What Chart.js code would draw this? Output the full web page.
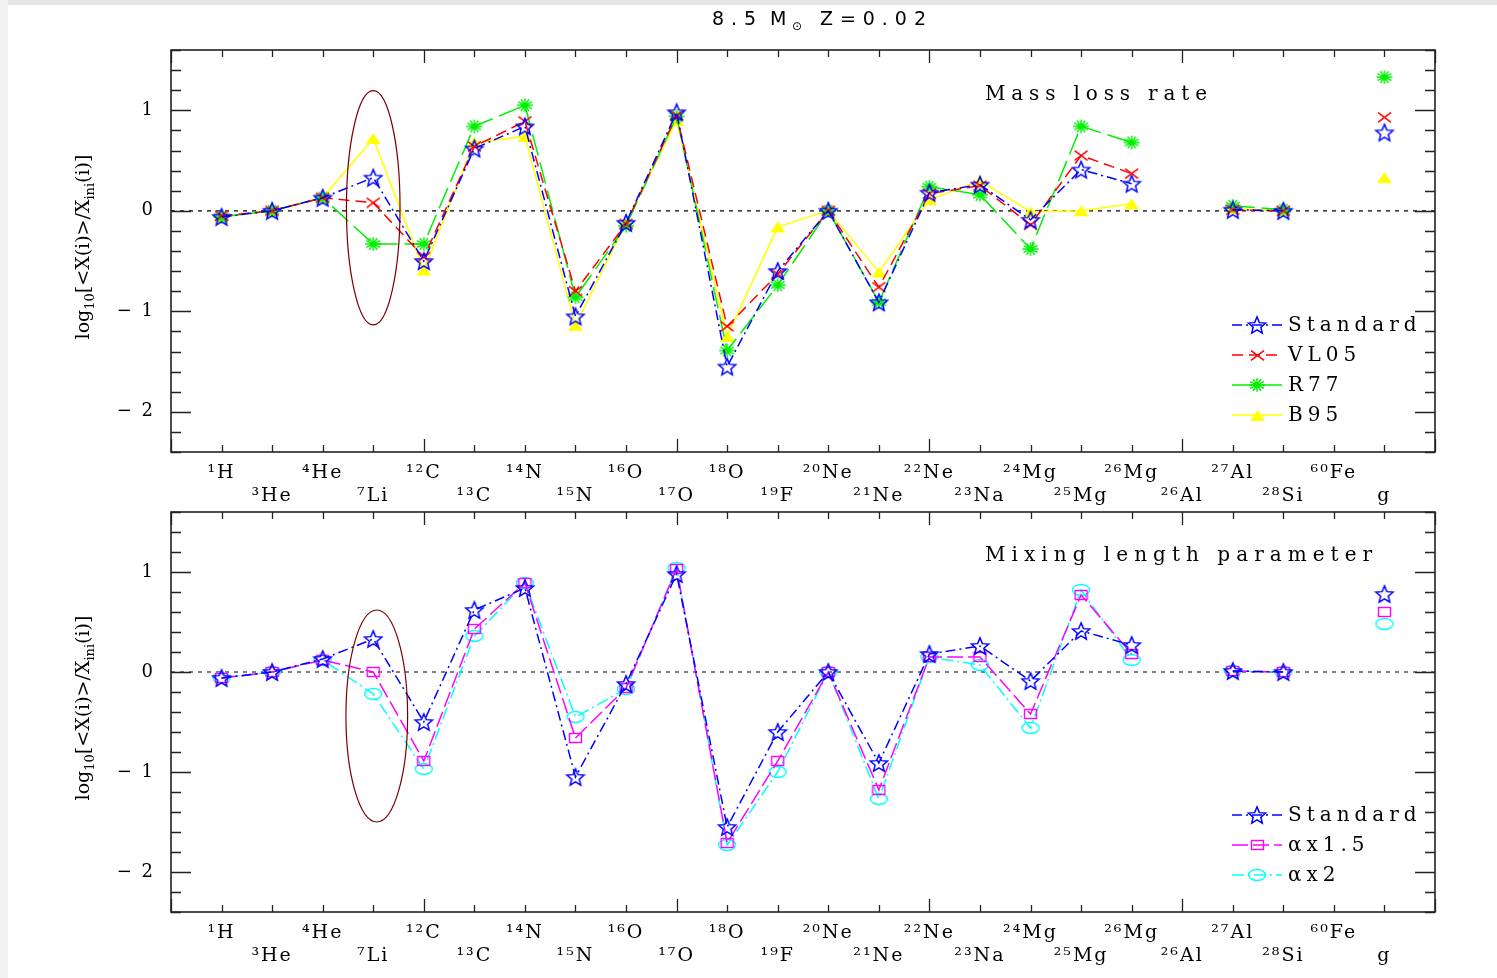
<!DOCTYPE html>
<html>
<head>
<meta charset="utf-8">
<script src="https://cdn.jsdelivr.net/npm/chart.js@4"></script>
<style>
html,body{margin:0;padding:0;background:#fff;}
#wrap{position:relative;width:1497px;height:978px;background:#fff;overflow:hidden;}
#topbar{position:absolute;left:0;top:0;width:1497px;height:5px;background:#e6e6e6;}
#leftbar{position:absolute;left:0;top:0;width:8px;height:978px;background:#f1f1f1;}
#c1{position:absolute;left:0;top:0;}
#c2{position:absolute;left:0;top:470px;}
</style>
</head>
<body>
<div id="wrap">
<div id="topbar"></div><div id="leftbar"></div>
<canvas id="c1" width="1497" height="510"></canvas>
<canvas id="c2" width="1497" height="508"></canvas>
</div>
<script>
// ---------------- data ----------------
const isotopeMass = [1,3,4,7,12,13,14,15,16,17,18,19,20,21,22,23,24,25,26,26,27,28,60,null];
const isotopeElem = ['H','He','He','Li','C','C','N','N','O','O','O','F','Ne','Ne','Ne','Na','Mg','Mg','Mg','Al','Al','Si','Fe','g'];

const yTickValues = [1, 0, -1, -2];
const yTickText   = ['1', '0', '\u2212 1', '\u2212 2'];

// Top panel: mass loss rate
const standard = [-0.06, 0.00, 0.13, 0.33, -0.50, 0.62, 0.84, -1.05, -0.12, 0.98, -1.55, -0.60, 0.00, -0.91, 0.18, 0.26, -0.09, 0.41, 0.27, null, 0.01, 0.00, null, 0.78];
const vl05     = [-0.05, 0.00, 0.13, 0.08, -0.46, 0.64, 0.89, -0.80, -0.13, 0.95, -1.15, -0.63, 0.00, -0.76, 0.17, 0.25, -0.14, 0.55, 0.37, null, 0.01, 0.00, null, 0.93];
const r77      = [-0.06, 0.00, 0.13, -0.33, -0.33, 0.84, 1.05, -0.86, -0.15, 0.94, -1.39, -0.74, 0.00, -0.91, 0.24, 0.16, -0.38, 0.84, 0.68, null, 0.05, 0.01, null, 1.33];
const b95      = [-0.06, 0.00, 0.13, 0.72, -0.59, 0.68, 0.74, -1.14, -0.12, 0.90, -1.25, -0.16, 0.00, -0.61, 0.11, 0.30, -0.01, 0.00, 0.07, null, 0.02, 0.00, null, 0.33];

// Bottom panel: mixing length parameter
const alpha15  = [-0.06, 0.00, 0.12, 0.00, -0.89, 0.43, 0.89, -0.66, -0.16, 1.03, -1.71, -0.89, 0.00, -1.18, 0.15, 0.15, -0.42, 0.77, 0.18, null, 0.01, 0.00, null, 0.60];
const alpha2   = [-0.06, 0.00, 0.12, -0.22, -0.97, 0.36, 0.89, -0.45, -0.17, 1.04, -1.73, -1.00, 0.00, -1.27, 0.15, 0.07, -0.56, 0.82, 0.12, null, 0.01, 0.00, null, 0.48];

// ---------------- helpers ----------------
const SERIF = '"DejaVu Serif", "Liberation Serif", serif';
const SUP = {'0':'\u2070','1':'\u00b9','2':'\u00b2','3':'\u00b3','4':'\u2074','5':'\u2075','6':'\u2076','7':'\u2077','8':'\u2078','9':'\u2079'};
function isoLabel(i){
  const m = isotopeMass[i];
  const pre = m == null ? '' : String(m).split('').map(c => SUP[c]).join('');
  return pre + isotopeElem[i];
}
function xLabel(v){
  const i = Math.round(v) - 1;
  if (Math.abs(v - Math.round(v)) > 1e-6 || i < 0 || i >= isotopeElem.length) return '';
  const lab = isoLabel(i);
  return i % 2 === 0 ? [lab, ''] : ['', lab];
}
function yLabel(v){
  const r = Math.round(v);
  if (Math.abs(v - r) > 1e-6) return '';
  const k = yTickValues.indexOf(r === 0 ? 0 : r);
  return k >= 0 ? yTickText[k] : '';
}

function mk(w, h){ const c = document.createElement('canvas'); c.width = w; c.height = h; return c; }
function starImg(color, R){
  const s = Math.ceil(R*2 + 4), c = mk(s, s), g = c.getContext('2d');
  g.strokeStyle = color; g.lineWidth = 1.5; g.beginPath();
  const r = R * 0.45, cy = s/2 + R*0.1;
  for (let k = 0; k < 10; k++){
    const a = -Math.PI/2 + k*Math.PI/5, rr = k % 2 === 0 ? R : r;
    const x = s/2 + rr*Math.cos(a), y = cy + rr*Math.sin(a);
    k ? g.lineTo(x, y) : g.moveTo(x, y);
  }
  g.closePath(); g.stroke(); return c;
}
function crossImg(color, a){
  const s = Math.ceil(a*2 + 4), c = mk(s, s), g = c.getContext('2d');
  g.strokeStyle = color; g.lineWidth = 1.5; g.beginPath();
  g.moveTo(s/2 - a, s/2 - a*0.75); g.lineTo(s/2 + a, s/2 + a*0.75);
  g.moveTo(s/2 - a, s/2 + a*0.75); g.lineTo(s/2 + a, s/2 - a*0.75);
  g.stroke(); return c;
}
function asteriskImg(color, R){
  const s = Math.ceil(R*2 + 4), c = mk(s, s), g = c.getContext('2d');
  g.strokeStyle = color; g.lineWidth = 1.5; g.beginPath();
  for (let k = 0; k < 6; k++){
    const a = k*Math.PI/6;
    g.moveTo(s/2 - R*Math.cos(a), s/2 - R*0.85*Math.sin(a));
    g.lineTo(s/2 + R*Math.cos(a), s/2 + R*0.85*Math.sin(a));
  }
  g.stroke(); return c;
}
function triImg(color, w, h){
  const c = mk(w + 2, h + 2), g = c.getContext('2d');
  g.fillStyle = color; g.beginPath();
  g.moveTo(1 + w/2, 1); g.lineTo(1 + w, 1 + h); g.lineTo(1, 1 + h); g.closePath(); g.fill(); return c;
}
function rectImg(color, w, h){
  const c = mk(w + 3, h + 3), g = c.getContext('2d');
  g.strokeStyle = color; g.lineWidth = 1.4; g.strokeRect(1.5, 1.5, w, h); return c;
}
function ellImg(color, w, h){
  const c = mk(w + 3, h + 3), g = c.getContext('2d');
  g.strokeStyle = color; g.lineWidth = 1.4; g.beginPath();
  g.ellipse(1.5 + w/2, 1.5 + h/2, w/2, h/2, 0, 0, Math.PI*2); g.stroke(); return c;
}

const BLUE = '#0000ff', RED = '#ff0000', GREEN = '#00f000', YELLOW = '#ffff00', MAG = '#ff00ff', CYAN = '#00ffff';

function fitDraw(ctx, text, x, y, target){
  ctx.letterSpacing = '0px';
  const w = ctx.measureText(text).width;
  const n = [...text].length;
  const ls = Math.max(0, (target - w) / (n - 1));
  ctx.letterSpacing = ls.toFixed(2) + 'px';
  ctx.fillText(text, x, y);
  ctx.letterSpacing = '0px';
}

function makeDeco(cfg){
  return {
    id: 'panelDeco',
    beforeDraw(chart){ chart.ctx.letterSpacing = '2px'; },
    beforeDatasetsDraw(chart){ chart.ctx.letterSpacing = '0px'; },
    afterDatasetsDraw(chart){
      const ctx = chart.ctx, {left, right, top, bottom} = chart.chartArea;
      const xs = chart.scales.x, ys = chart.scales.y;
      ctx.save();
      ctx.strokeStyle = '#222'; ctx.lineWidth = 1.6;
      ctx.strokeRect(left, top, right - left, bottom - top);
      ctx.lineWidth = 1.3; ctx.beginPath();
      for (let v = 0; v <= 25; v++){
        const px = Math.round(xs.getPixelForValue(v)) + 0.5, L = v % 5 === 0 ? 13 : 7;
        ctx.moveTo(px, top); ctx.lineTo(px, top + L);
        ctx.moveTo(px, bottom); ctx.lineTo(px, bottom - L);
      }
      for (let k = -12; k <= 8; k++){
        const py = Math.round(ys.getPixelForValue(k*0.2)) + 0.5, L = k % 5 === 0 ? 20 : 10;
        ctx.moveTo(left, py); ctx.lineTo(left + L, py);
        ctx.moveTo(right, py); ctx.lineTo(right - L, py);
      }
      ctx.stroke();
      // ellipse highlighting 7Li
      const e = cfg.ellipse;
      const cx = xs.getPixelForValue(e.x), cy = ys.getPixelForValue(e.y);
      const rx = xs.getPixelForValue(e.x + e.rx) - cx, ry = cy - ys.getPixelForValue(e.y + e.ry);
      ctx.strokeStyle = '#7a0000'; ctx.lineWidth = 1.2; ctx.beginPath();
      ctx.ellipse(cx, cy, rx, ry, 0, 0, Math.PI*2); ctx.stroke();
      ctx.restore();
    },
    afterDraw(chart){
      const ctx = chart.ctx, {left, right, top, bottom} = chart.chartArea;
      ctx.save();
      ctx.fillStyle = '#000';
      // annotation
      ctx.font = '20px ' + SERIF; ctx.textBaseline = 'middle'; ctx.textAlign = 'left';
      fitDraw(ctx, cfg.note.text, left + 814, top + cfg.note.dy, cfg.note.width);
      // legend
      const items = chart.data.datasets.filter(d => !d.isRef);
      const n = items.length;
      items.forEach((d, i) => {
        const y = bottom - 37 - (n - 1 - i)*30;
        ctx.save();
        ctx.strokeStyle = d.borderColor; ctx.lineWidth = 1.5; ctx.setLineDash(d.borderDash || []);
        ctx.beginPath(); ctx.moveTo(right - 203, y); ctx.lineTo(right - 153, y); ctx.stroke();
        ctx.restore();
        const img = d.pointStyle;
        ctx.drawImage(img, Math.round(right - 178 - img.width/2), Math.round(y - img.height/2));
        ctx.font = '20px ' + SERIF; ctx.textBaseline = 'middle'; ctx.fillStyle = '#000';
        ctx.letterSpacing = '5px';
        ctx.fillText(d.label, right - 147, y + 1);
        ctx.letterSpacing = '0px';
      });
      // y axis title
      const parts = [
        {t:'log', sub:false}, {t:'10', sub:true}, {t:'[<X(i)>/X', sub:false}, {t:'ini', sub:true}, {t:'(i)]', sub:false}
      ];
      const mainF = '19px ' + SERIF, subF = '13px ' + SERIF;
      let total = 0;
      parts.forEach(p => { ctx.font = p.sub ? subF : mainF; p.w = ctx.measureText(p.t).width; total += p.w; });
      ctx.translate(89, (top + bottom)/2 - 4);
      ctx.rotate(-Math.PI/2);
      ctx.textBaseline = 'alphabetic'; ctx.textAlign = 'left';
      let x = -total/2;
      parts.forEach(p => { ctx.font = p.sub ? subF : mainF; ctx.fillText(p.t, x, p.sub ? 5 : 0); x += p.w; });
      ctx.restore();
      // overall title
      if (cfg.title){
        ctx.save(); ctx.fillStyle = '#000'; ctx.textBaseline = 'alphabetic'; ctx.textAlign = 'left';
        const TF = '"DejaVu Sans", sans-serif';
        ctx.font = '19px ' + TF;
        fitDraw(ctx, '8.5', 712, 25, 44);
        ctx.fillText('M', 770, 25);
        ctx.font = '12px "DejaVu Sans", sans-serif';
        ctx.fillText('\u2299', 792, 30);
        ctx.font = '19px ' + TF;
        fitDraw(ctx, 'Z=0.02', 820, 25, 106);
        ctx.restore();
      }
    }
  };
}

function makePanel(id, cfg){
  const ds = cfg.series.map(s => ({
    label: s.label,
    data: s.values.map((v, i) => ({x: i + 1, y: v})),
    borderColor: s.color, backgroundColor: s.color,
    borderWidth: 1.5, borderDash: s.dash,
    pointStyle: s.marker, pointRadius: 5, pointHoverRadius: 5,
    showLine: true, spanGaps: false, fill: false, tension: 0
  }));
  ds.push({label: 'zero', isRef: true, data: [{x: 0, y: 0}, {x: 25, y: 0}],
    borderColor: '#000', backgroundColor: '#000', borderWidth: 1.2, borderDash: [4, 5],
    pointRadius: 0, showLine: true});
  return new Chart(document.getElementById(id), {
    type: 'scatter',
    data: {datasets: ds},
    options: {
      responsive: false, animation: false, devicePixelRatio: 1,
      layout: {padding: cfg.padding},
      plugins: {legend: {display: false}, tooltip: {enabled: false}},
      events: [],
      scales: {
        x: {type: 'linear', min: 0, max: 25,
            afterFit: s => { s.height = cfg.xAxisHeight; },
            grid: {display: false, drawTicks: false}, border: {display: false},
            ticks: {stepSize: 1, autoSkip: false, maxRotation: 0, minRotation: 0, padding: 10,
                    color: '#000', font: {family: SERIF, size: 19, lineHeight: 1.2}, callback: xLabel}},
        y: {type: 'linear', min: -2.4, max: 1.6,
            afterFit: s => { s.width = 171; },
            grid: {display: false, drawTicks: false}, border: {display: false},
            ticks: {stepSize: 0.2, autoSkip: false, padding: 16, color: '#000',
                    font: {family: SERIF, size: 18}, callback: yLabel}}
      }
    },
    plugins: [makeDeco(cfg)]
  });
}

makePanel('c1', {
  padding: {top: 50, right: 62, left: 0, bottom: 0},
  xAxisHeight: 58,
  title: true,
  note: {text: 'Mass loss rate', dy: 45, width: 222},
  ellipse: {x: 4, y: 0.03, rx: 0.53, ry: 1.165},
  series: [
    {label: 'Standard', values: standard, color: BLUE,   dash: [10, 4, 2, 4], marker: starImg(BLUE, 9)},
    {label: 'VL05',     values: vl05,     color: RED,    dash: [11, 6],      marker: crossImg(RED, 6.5)},
    {label: 'R77',      values: r77,      color: GREEN,  dash: [22, 7],      marker: asteriskImg(GREEN, 8)},
    {label: 'B95',      values: b95,      color: YELLOW, dash: [],           marker: triImg(YELLOW, 15, 11)}
  ]
});

makePanel('c2', {
  padding: {top: 42, right: 62, left: 0, bottom: 0},
  xAxisHeight: 66,
  title: false,
  note: {text: 'Mixing length parameter', dy: 44, width: 387},
  ellipse: {x: 4.07, y: -0.44, rx: 0.61, ry: 1.06},
  series: [
    {label: 'Standard', values: standard, color: BLUE, dash: [10, 4, 2, 4],  marker: starImg(BLUE, 9)},
    {label: '\u03b1x1.5', values: alpha15, color: MAG, dash: [16, 5],     marker: rectImg(MAG, 12, 9)},
    {label: '\u03b1x2',   values: alpha2,  color: CYAN, dash: [12, 4, 2, 4], marker: ellImg(CYAN, 17, 11)}
  ]
});
</script>
</body>
</html>
